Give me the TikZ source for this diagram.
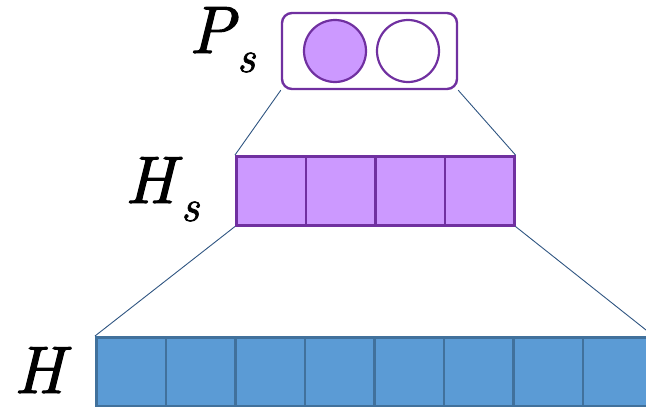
\documentclass[tikz,border=0pt]{standalone}
\usepackage{fontspec}
\newfontfamily\lmi{lmroman10-italic.otf}[FakeBold=1.6]
\definecolor{pfill}{HTML}{CC99FF}
\definecolor{pline}{HTML}{7030A0}
\definecolor{bfill}{HTML}{5B9BD5}
\definecolor{bline}{HTML}{41719C}
\definecolor{cline}{HTML}{2F5581}
\begin{document}
\begin{tikzpicture}[x=1pt,y=-1pt,
  pcell/.style={draw=pline,fill=pfill,line width=2.5pt,minimum width=69.5pt,minimum height=69pt,inner sep=0pt,anchor=north west},
  bcell/.style={draw=bline,fill=bfill,line width=2.6pt,minimum width=69.5pt,minimum height=69pt,inner sep=0pt,anchor=north west},
  pbox/.style={draw=pline,line width=2.4pt,rounded corners=10pt,minimum width=175pt,minimum height=76pt,inner sep=0pt},
  circ/.style={circle,draw=pline,line width=2.2pt,minimum size=62pt,inner sep=0pt},
  conn/.style={draw=cline,line width=0.9pt},
  big/.style={font=\lmi\fontsize{67}{67}\selectfont,inner sep=0pt,anchor=base west},
  sub/.style={font=\lmi\fontsize{44}{44}\selectfont,inner sep=0pt,anchor=base west}]
\useasboundingbox (0,0) rectangle (646,407);
% top box
\node[pbox] (P) at (369.5,51) {};
\node[circ,fill=pfill] (c1) at (335,51) {};
\node[circ,fill=white] (c2) at (408,51) {};
\node[big] (Plab) at (189,53) {P};
\node[sub] (Psub) at (237,72) {s};
% Hs row
\foreach \i in {1,...,4} {
  \node[pcell] (hs\i) at ({235+(\i-1)*69.5},155) {};
}
\node[big] (Hslab) at (125,203) {H};
\node[sub] (Hssub) at (181,221) {s};
% H row
\foreach \i in {1,...,8} {
  \node[bcell] (h\i) at ({95+(\i-1)*69.5},336) {};
}
\node[big] (Hlab) at (14,393) {H};
% connectors
\draw[conn] (P.south west) -- (hs1.north west);
\draw[conn] (P.south east) -- (hs4.north east);
\draw[conn] (hs1.south west) -- (h1.north west);
\draw[conn] (hs4.south east) -- (h8.north east);
\end{tikzpicture}
\end{document}
